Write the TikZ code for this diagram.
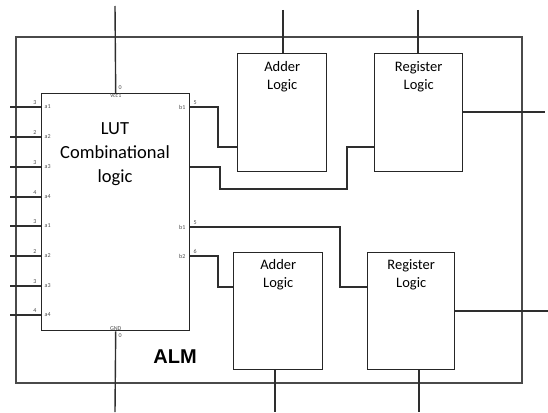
\documentclass[tikz,border=0pt]{standalone}
\usepackage{fontspec}
\setsansfont{Carlito}
\newfontfamily\almfont{Liberation Sans}
\usepackage{tikz}
\usetikzlibrary{positioning}
\definecolor{wiregray}{HTML}{2E2E2E}
\definecolor{framegray}{HTML}{4A4A4A}

\begin{document}
\begin{tikzpicture}[x=1pt,y=-1pt,font=\sffamily,
    wire/.style={draw=wiregray,line width=1.4pt},
    blk/.style={draw=black!85,line width=1.4pt,inner sep=0pt},
    blktxt/.style={align=center,anchor=north,font=\sffamily\fontsize{14.5}{18}\selectfont},
    pin/.style={font=\sffamily\fontsize{6}{7}\selectfont,text=black!70,inner sep=0.5pt}]
  \useasboundingbox (0,0) rectangle (548,412);
  % ALM frame
  \draw[framegray,line width=1.8pt] (16,37) rectangle (522,383);
  \node[anchor=center,font=\almfont\bfseries\fontsize{20}{24}\selectfont] (alm) at (175,357) {ALM};
  % blocks
  \node[blk,anchor=north west,minimum width=148pt,minimum height=237pt] (lut) at (41,93) {};
  \node[blk,anchor=north west,minimum width=89pt,minimum height=118pt] (add1) at (237,53) {};
  \node[blk,anchor=north west,minimum width=88pt,minimum height=118pt] (reg1) at (374,53) {};
  \node[blk,anchor=north west,minimum width=89pt,minimum height=117pt] (add2) at (233,252) {};
  \node[blk,anchor=north west,minimum width=87pt,minimum height=117pt] (reg2) at (367,252) {};
  \node[align=center,font=\sffamily\fontsize{18.5}{24}\selectfont] (luttxt) at (115,154) {LUT\\Combinational\\logic};
  \node[blktxt] at (add1.north |- 0,58) {Adder\\Logic};
  \node[blktxt] at (reg1.north |- 0,58) {Register\\Logic};
  \node[blktxt] at (add2.north |- 0,256) {Adder\\Logic};
  \node[blktxt] at (reg2.north |- 0,256) {Register\\Logic};
  % supply pins
  \coordinate (vcc) at (115,6);
  \coordinate (gnd) at (115,412);
  \draw[wire] (vcc) -- (lut.north);
  \draw[wire] (lut.south) -- (gnd);
  \node[pin,anchor=south west] at (118,90) {0};
  \node[pin,anchor=north] at (lut.north) {Vcc1};
  \node[pin,anchor=south] at (lut.south) {GND};
  \node[pin,anchor=north west] at (118,333) {0};
  % LUT inputs
  \foreach \i/\y/\n/\a in {1/107/3/a1,2/137/2/a2,3/167/3/a3,4/197/4/a4,
                           5/226/3/a1,6/256/2/a2,7/286/3/a3,8/315/4/a4}{
    \coordinate (in\i) at (10,\y);
    \draw[wire] (in\i) -- (in\i -| lut.west);
    \node[pin,anchor=south east] at (37,\y-1.5) {\n};
    \node[pin,anchor=west] at (44,\y) {\a};
  }
  % LUT outputs
  \node[pin,anchor=east] at (186,107) {b1};
  \node[pin,anchor=south west] at (193,105.5) {5};
  \draw[wire] (lut.east |- 0,107) -- (218,107) |- (add1.west |- 0,147);
  \draw[wire] (lut.east |- 0,167) -- (220,167) -- (220,189) -| (347,147) -- (reg1.west |- 0,147);
  \node[pin,anchor=east] at (186,227) {b1};
  \node[pin,anchor=south west] at (193,225.5) {5};
  \draw[wire] (lut.east |- 0,227) -- (340,227) |- (reg2.west |- 0,287);
  \node[pin,anchor=east] at (186,256) {b2};
  \node[pin,anchor=south west] at (193,254.5) {6};
  \draw[wire] (lut.east |- 0,256) -- (218,256) |- (add2.west |- 0,287);
  % block pins
  \coordinate (cin1) at (283,10);
  \coordinate (cin2) at (418,10);
  \coordinate (q1) at (545,112);
  \coordinate (q2) at (548,311);
  \coordinate (cout1) at (275,412);
  \coordinate (cout2) at (419,412);
  \draw[wire] (cin1) -- (cin1 |- add1.north);
  \draw[wire] (cin2) -- (cin2 |- reg1.north);
  \draw[wire] (reg1.east |- q1) -- (q1);
  \draw[wire] (reg2.east |- q2) -- (q2);
  \draw[wire] (cout1 |- add2.south) -- (cout1);
  \draw[wire] (cout2 |- reg2.south) -- (cout2);
\end{tikzpicture}
\end{document}
